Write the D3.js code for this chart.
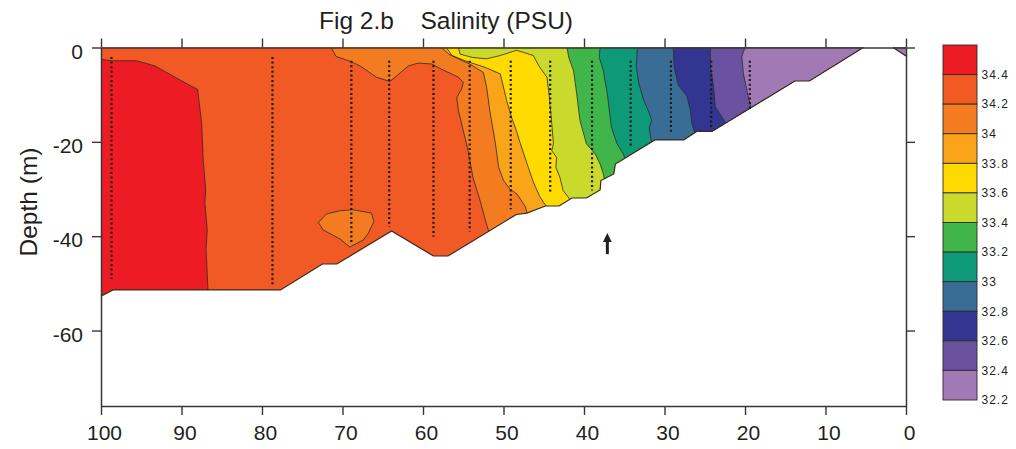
<!DOCTYPE html>
<html><head><meta charset="utf-8">
<script src="https://cdn.jsdelivr.net/npm/d3@7"></script>
<style>
body{margin:0;background:#fff}
svg{display:block}
text{font-family:"Liberation Sans",Arial,sans-serif;fill:#231f20}
</style>
</head><body>
<svg id="chart" width="1016" height="449"></svg>
<script>
// ---------------- DATA ----------------
const xTicks = [100, 90, 80, 70, 60, 50, 40, 30, 20, 10, 0];
const yTicks = [0, -20, -40, -60];
const classLabels = [34.4, 34.2, 34, 33.8, 33.6, 33.4, 33.2, 33, 32.8, 32.6, 32.4, 32.2];
const classColors = ["#ED1C24", "#F15A24", "#F47C20", "#FAA41A", "#FFDA00", "#C9DA2C",
                     "#40B54A", "#0E9A77", "#3A6D95", "#333690", "#6B52A1", "#A079B5"];

// sea-floor profile (distance km, depth m)
const bottomProfile = [[100,-52.7],[98.5,-51.4],[77.7,-51.4],[72.5,-45.9],[70.7,-45.9],[63.9,-38.9],
  [58.7,-44.2],[56.9,-44.2],[48.4,-35.4],[47.1,-35.1],[44.8,-33.6],[43.1,-33.6],[41.5,-31.9],
  [39.7,-31.9],[38.0,-30.2],[37.9,-28.2],[36.3,-26.8],[36.1,-24.7],[31.2,-19.6],[27.6,-19.6],
  [26.0,-17.8],[24.1,-17.8],[13.8,-7.1],[12.0,-7.1],[5.3,0]];
const nearshore = [[1.6,0],[0,0],[0,-1.8]];

// isolines (distance km, depth m)
const iso344 = [[100,-2.5],[98.7,-2.8],[95.6,-2.8],[93.3,-3.9],[90.6,-6.5],[88.0,-8.9],[87.5,-16],
  [87.3,-24],[87.0,-30],[87.1,-33],[86.8,-38.7],[86.95,-42.7],[86.7,-51.8]];
const iso342 = [[71.4,0],[70.8,-1.9],[69.1,-2.9],[67.8,-3.9],[65.8,-6.3],[64.1,-7.2],[61.8,-3.9],
  [60.6,-3.3],[58.9,-3.5],[57.7,-4.6],[55.6,-6.3],[55.0,-7.4],[55.2,-8.8],[55.8,-10.6],[55.6,-13.4],
  [54.8,-19.0],[54.4,-21.9],[53.8,-27.5],[52.9,-32.5],[52.3,-36.3],[51.8,-39.2]];
const blob342 = [[73.0,-37.1],[72.0,-35.3],[70.3,-34.6],[68.7,-34.4],[66.4,-35.1],[66.1,-36.9],
  [66.8,-39.4],[67.4,-40.8],[69.1,-42.3],[70.3,-40.6],[72.4,-38.7]];
const iso340 = [[57.7,0],[56.8,-1.4],[55.6,-2.4],[54.2,-3.5],[52.5,-5.3],[52.1,-8.4],[51.7,-13.4],
  [51.0,-20.4],[50.6,-25.4],[50.0,-28.2],[49.2,-30.0],[48.3,-31.1],[47.3,-33.7],[47.0,-35.4]];
const iso338 = [[57.1,0],[56.4,-1.7],[54.8,-2.8],[52.3,-4.2],[50.4,-5.6],[50.1,-7.7],[49.6,-11.3],
  [49.0,-14.8],[48.4,-17.6],[47.9,-20.4],[47.1,-24.5],[46.3,-28.5],[45.5,-31.6],[44.6,-33.9]];
const iso336 = [[55.6,0],[55.4,-1.4],[53.9,-2.1],[52.1,-2.4],[50.4,-1.7],[48.4,-0.6],[47.6,-1.0],
  [46.3,-1.7],[45.5,-4.2],[44.6,-6.3],[44.3,-10.6],[44.0,-16.2],[43.8,-20.4],[44.0,-21.9],
  [43.4,-23.3],[43.5,-25.4],[43.0,-27.5],[42.6,-30.3],[41.7,-32.3]];
const iso334 = [[42.1,0],[41.9,-2.1],[41.3,-4.9],[40.9,-9.9],[40.5,-15.5],[39.7,-20.4],[38.6,-22.6],
  [38.0,-24.7],[37.6,-26.8],[37.4,-28.5]];
const iso332 = [[38.0,0],[38.1,-2.1],[37.6,-4.9],[37.1,-9.9],[36.6,-16.9],[35.9,-20.4],[35.1,-22.6],
  [34.9,-23.8]];
const iso330 = [[33.2,0],[33.4,-0.5],[33.5,-4.1],[33.2,-7.6],[32.6,-11.1],[31.9,-13.9],[31.6,-15.4],
  [31.9,-17.1],[31.6,-20.3]];
const iso328 = [[28.9,0],[28.8,-4.1],[28.3,-7.9],[27.2,-10.4],[26.8,-13.2],[26.6,-16.1],[26.2,-18.3]];
const iso326 = [[24.3,0],[24.3,-4.1],[23.9,-8.3],[23.7,-12.5],[22.3,-16.3]];
const iso324 = [[20.0,0],[20.4,-1.9],[20.2,-5.5],[19.6,-10.4],[19.2,-13.1]];
const contourLevels = [34.4, 34.2, 34.0, 33.8, 33.6, 33.4, 33.2, 33.0, 32.8, 32.6, 32.4];
const isolines = [iso344, iso342, iso340, iso338, iso336, iso334, iso332, iso330, iso328, iso326, iso324];

// CTD stations
const stationX = [98.7, 78.7, 68.9, 64.2, 58.7, 54.2, 49.1, 44.2, 39.0, 34.2, 29.2, 24.2, 19.4];
const stationTop = [-2.0, -2.0, -2.8, -2.8, -2.8, -2.8, -2.8, -2.8, -2.8, -2.8, -2.8, -2.8, -2.8];
const stationBottom = [-49.1, -50.3, -41.5, -38.0, -40.1, -39.0, -34.3, -31.0, -30.3, -21.0, -18.2, -17.1, -13.2];

// arrow marker (distance, depth tip, depth tail)
const arrowPos = [37.1, -39.3, -43.8];

// ---------------- DRAW ----------------
const svg = d3.select("#chart");
const x = d3.scaleLinear().domain([100, 0]).range([101, 906]);
const y = d3.scaleLinear().domain([0, -76]).range([47.5, 406]);
const line = d3.line().x(d => x(d[0])).y(d => y(d[1]));

const sectionPoly = [[100, 0]].concat(bottomProfile);

const defs = svg.append("defs");
defs.append("clipPath").attr("id", "sec").append("path")
  .attr("d", line(sectionPoly) + "Z" + line(nearshore) + "Z");

const plot = svg.append("g").attr("clip-path", "url(#sec)");
plot.append("path").attr("d", line(sectionPoly) + "Z").attr("fill", classColors[0]);

function regionRight(pts) {
  const f = pts[0], l = pts[pts.length - 1];
  return pts.concat([[l[0], -95], [-5, -95], [-5, 5], [f[0], 5]]);
}
isolines.forEach((iso, k) => {
  plot.append("path").attr("d", line(regionRight(iso)) + "Z").attr("fill", classColors[k + 1]);
  if (k === 1) {
    plot.append("path").attr("d", line(blob342) + "Z").attr("fill", classColors[2]);
  }
});
plot.append("path").attr("d", line(nearshore) + "Z").attr("fill", classColors[11]);

isolines.forEach(iso => {
  plot.append("path").attr("d", line(iso)).attr("fill", "none")
    .attr("stroke", "#2b2b2b").attr("stroke-width", 0.8);
});
plot.append("path").attr("d", line(blob342) + "Z").attr("fill", "none")
  .attr("stroke", "#2b2b2b").attr("stroke-width", 0.8);

// sea floor outline
svg.append("path").attr("d", line(bottomProfile)).attr("fill", "none")
  .attr("stroke", "#3a2a22").attr("stroke-width", 1.2);
svg.append("path").attr("d", line([nearshore[0], nearshore[2]])).attr("fill", "none")
  .attr("stroke", "#3a2a22").attr("stroke-width", 1.2);

// stations
svg.append("g").selectAll("line").data(stationX).join("line")
  .attr("x1", d => x(d)).attr("x2", d => x(d))
  .attr("y1", (d, i) => y(stationTop[i])).attr("y2", (d, i) => y(stationBottom[i]))
  .attr("stroke", "#1a1a1a").attr("stroke-width", 2.2).attr("stroke-dasharray", "2,2.6");

// arrow
const ax = x(arrowPos[0]), ayTip = y(arrowPos[1]), ayTail = y(arrowPos[2]);
svg.append("line").attr("x1", ax).attr("x2", ax).attr("y1", ayTip + 8).attr("y2", ayTail)
  .attr("stroke", "#231f20").attr("stroke-width", 3);
svg.append("path").attr("d", `M${ax},${ayTip}L${ax - 4.4},${ayTip + 9}L${ax + 4.4},${ayTip + 9}Z`)
  .attr("fill", "#231f20");

// axes
const axisColor = "#3b3536";
const fmt = d => String(d);
function styleAxis(g) {
  g.select(".domain").attr("stroke", axisColor).attr("stroke-width", 1.5);
  g.selectAll(".tick line").attr("stroke", axisColor).attr("stroke-width", 1.4);
  g.selectAll("text").attr("font-family", "Liberation Sans, Arial, sans-serif")
    .attr("font-size", 21).attr("fill", "#231f20");
}
svg.append("g").attr("transform", "translate(0,406)")
  .call(d3.axisBottom(x).tickValues(xTicks).tickSize(9).tickSizeOuter(0).tickPadding(10).tickFormat(fmt))
  .call(styleAxis).call(g => g.selectAll("text").attr("dx", 3));
svg.append("g").attr("transform", "translate(0,47.5)")
  .call(d3.axisTop(x).tickValues(xTicks).tickSize(9).tickSizeOuter(0).tickFormat(""))
  .call(styleAxis);
svg.append("g").attr("transform", "translate(101,0)")
  .call(d3.axisLeft(y).tickValues(yTicks).tickSize(9).tickSizeOuter(0).tickPadding(9).tickFormat(fmt))
  .call(styleAxis).call(g => g.selectAll("text").attr("dy", "0.5em"));
svg.append("g").attr("transform", "translate(906,0)")
  .call(d3.axisRight(y).tickValues(yTicks).tickSize(9).tickSizeOuter(0).tickFormat(""))
  .call(styleAxis);

// titles
svg.append("text").attr("x", 319).attr("y", 28.5).attr("font-size", 24.5).text("Fig 2.b");
svg.append("text").attr("x", 420.5).attr("y", 28.5).attr("font-size", 24.5).text("Salinity (PSU)");
svg.append("text").attr("transform", "translate(37,202) rotate(-90)")
  .attr("text-anchor", "middle").attr("font-size", 24.5).text("Depth (m)");

// colorbar
const cb = d3.scaleLinear().domain([0, classColors.length]).range([45, 400]);
const cbg = svg.append("g");
cbg.selectAll("rect").data(classColors).join("rect")
  .attr("x", 943).attr("width", 34)
  .attr("y", (d, i) => cb(i)).attr("height", (d, i) => cb(i + 1) - cb(i))
  .attr("fill", d => d).attr("stroke", "#2e2a2a").attr("stroke-width", 0.9);
cbg.selectAll("text").data(classLabels).join("text")
  .attr("x", 981.5)
  .attr("y", (d, i) => cb(i + 1))
  .attr("dy", "0.36em")
  .attr("font-family", "DejaVu Sans Mono, monospace")
  .attr("font-size", 12).attr("letter-spacing", 1).attr("fill", "#333")
  .text(d => String(d));
</script>
</body></html>
